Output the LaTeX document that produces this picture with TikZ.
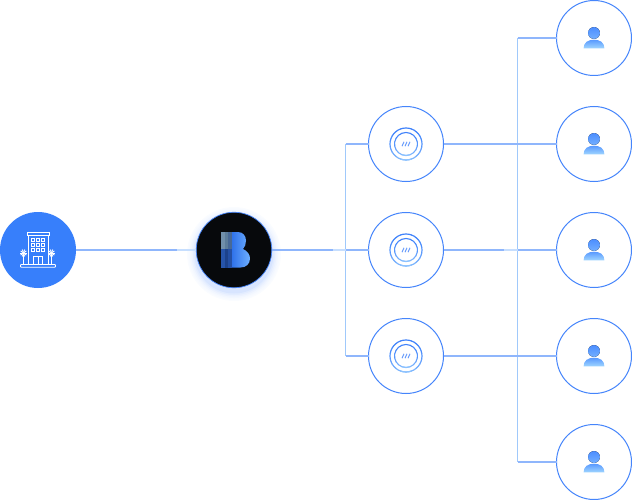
\documentclass[tikz,border=0pt]{standalone}
\definecolor{ringblue}{HTML}{4585FB}
\definecolor{hotelblue}{HTML}{377FFB}
\definecolor{linehz}{HTML}{8FB6FC}
\definecolor{linefade}{HTML}{C6DEFE}
\definecolor{linevt}{HTML}{A0C9FB}
\definecolor{persontop}{HTML}{4C8EFF}
\definecolor{personbot}{HTML}{A0D6FF}
\definecolor{logodark}{HTML}{07090C}
\definecolor{glowblue}{HTML}{5D95FF}
\definecolor{ringtop}{HTML}{3F82FB}
\definecolor{ringbot}{HTML}{93C8FF}
\tikzset{
  hubnode/.style={circle,draw=ringblue,line width=1pt,fill=white,minimum size=75pt,inner sep=0pt,outer sep=0pt},
  hotelnode/.style={circle,fill=hotelblue,minimum size=76pt,inner sep=0pt,outer sep=0pt},
  logonode/.style={circle,draw=ringblue,line width=0.7pt,fill=logodark,minimum size=75.5pt,inner sep=0pt,outer sep=0pt},
  hzline/.style={draw=linehz,line width=1.4pt},
  fadeline/.style={draw=linefade,line width=1.4pt},
  vtline/.style={draw=linevt,line width=1pt},
  iconline/.style={draw=white,line width=0.8pt},
  personfill/.style={top color=persontop!85!personbot,bottom color=personbot,draw=none},
}
\newcommand{\apicon}[1]{%
  \begin{scope}[shift={(#1)}]
    \foreach \a/\m in {-90/100,-70/100,-50/95,-30/85,-10/72,10/58,30/42,50/28,70/15,90/8}{
      % \a runs from the top of the picture to the bottom on the right; mirrored on the left
      \draw[ringtop!\m!ringbot,line width=1.2pt] (\a:16) arc[start angle=\a,delta angle=21,radius=16];
      \draw[ringtop!\m!ringbot,line width=1.2pt] (180-\a:16) arc[start angle=180-\a,delta angle=-21,radius=16];
      \draw[ringtop!\m!ringbot,line width=1.1pt] (\a:11.5) arc[start angle=\a,delta angle=21,radius=11.5];
      \draw[ringtop!\m!ringbot,line width=1.1pt] (180-\a:11.5) arc[start angle=180-\a,delta angle=-21,radius=11.5];
    }
    \foreach \d in {-3,0,3}{
      \draw[ringblue!80!white,line width=1pt] (\d-1,2.2) -- (\d+1,-2.2);
    }
  \end{scope}}
\newcommand{\usericon}[1]{%
  \begin{scope}[shift={(#1)}]
    \fill[top color=persontop,bottom color=persontop!55!personbot] (0,-5) circle[radius=5.9];
    \path[personfill] (-10.4,10.4) .. controls (-10.4,4.5) and (-6,1.7) .. (0,1.7)
      .. controls (6,1.7) and (10.4,4.5) .. (10.4,10.4) -- cycle;
  \end{scope}}
\begin{document}
\begin{tikzpicture}[x=1pt,y=-1pt]
\useasboundingbox (0,0) rectangle (632,500);
% glow under the logo
\foreach \r/\m in {47/3,45.5/5,44/8,42.5/12,41/17,39.5/24}{
  \fill[glowblue!\m!white] (234,254) circle[radius=\r];
}
% junctions
\coordinate (jt) at (345.5,144);
\coordinate (jm) at (345.5,250);
\coordinate (jb) at (345.5,356);
\coordinate (kt) at (517.5,38);
\coordinate (kb) at (517.5,462);
\coordinate (f1) at (177,250);
\coordinate (f2) at (333,250);
\coordinate (f3) at (504,250);
\coordinate (k3) at (517.5,250);
% nodes
\node[hotelnode] (h) at (38,250) {};
\node[logonode] (b) at (234,250) {};
\foreach \n/\y in {a1/144,a2/250,a3/356}{\node[hubnode] (\n) at (406,\y) {};}
\foreach \n/\y in {u1/38,u2/144,u3/250,u4/356,u5/462}{\node[hubnode] (\n) at (594,\y) {};}
% connectors
\draw[vtline] (jt) -- (jb);
\draw[vtline] (kt) -- (kb);
\draw[hzline] (h) -- (f1);
\draw[fadeline] (f1) -- (b);
\draw[hzline] (b) -- (f2);
\draw[fadeline] (f2) -- (jm);
\draw[hzline] (jm) -- (a2);
\draw[hzline] (jt) -- (a1);
\draw[hzline] (jb) -- (a3);
\draw[hzline] (a1) -- (u2);
\draw[hzline] (a3) -- (u4);
\draw[hzline] (a2) -- (f3);
\draw[fadeline] (f3) -- (k3);
\draw[hzline] (k3) -- (u3);
\draw[hzline] (kt) -- (u1);
\draw[hzline] (kb) -- (u5);
% hotel icon
\begin{scope}[iconline]
  \draw (27,232.5) rectangle (49,235);
  \draw (28,235) -- (28,264.5) (48,235) -- (48,264.5);
  \draw[rounded corners=0.8pt] (20.5,264.5) rectangle (55.5,267.3);
  \foreach \x in {31.5,36.5,41.5}\foreach \y in {238,243,248.5}{
    \draw[line width=0.7pt] (\x,\y) rectangle ++(3,3);
  }
  \draw (33.5,264.5) -- (33.5,256) -- (42.5,256) -- (42.5,264.5);
  \draw[line width=0.6pt] (38,256) -- (38,264.5);
  \foreach \x in {23.5,51.5}{
    \draw (\x,253) -- (\x,264.5);
    \foreach \a in {0,36,72,108,144,180,216,252,288,324}{\draw[line width=0.9pt] (\x,253) -- ++(\a:3.6);}
  }
\end{scope}
% B logo
\fill[color={rgb,255:red,112;green,143;blue,170}] (221,232) rectangle (224.6,249);
\fill[color={rgb,255:red,92;green,125;blue,155}] (224.6,232) rectangle (228.2,249);
\fill[color={rgb,255:red,72;green,105;blue,150}] (228.2,232) rectangle (232,249);
\fill[color={rgb,255:red,38;green,84;blue,170}] (221,249) rectangle (224.6,267.5);
\fill[color={rgb,255:red,28;green,66;blue,140}] (224.6,249) rectangle (228.2,267.5);
\fill[color={rgb,255:red,36;green,80;blue,165}] (228.2,249) rectangle (232,267.5);
\path[left color={rgb,255:red,48;green,115;blue,235},right color={rgb,255:red,110;green,175;blue,255}]
  (232,232) -- (238,232) .. controls (243,232) and (246,236) .. (246,240.5)
  .. controls (246,244) and (245,247) .. (243,249)
  .. controls (247.5,251) and (250,254.5) .. (250,258.5)
  .. controls (250,264) and (246,267.5) .. (240.5,267.5) -- (232,267.5) -- cycle;
% access point icons
\apicon{406,144}
\apicon{406,250}
\apicon{406,356}
% person icons
\usericon{594,38}
\usericon{594,144}
\usericon{594,250}
\usericon{594,356}
\usericon{594,462}
\end{tikzpicture}
\end{document}
